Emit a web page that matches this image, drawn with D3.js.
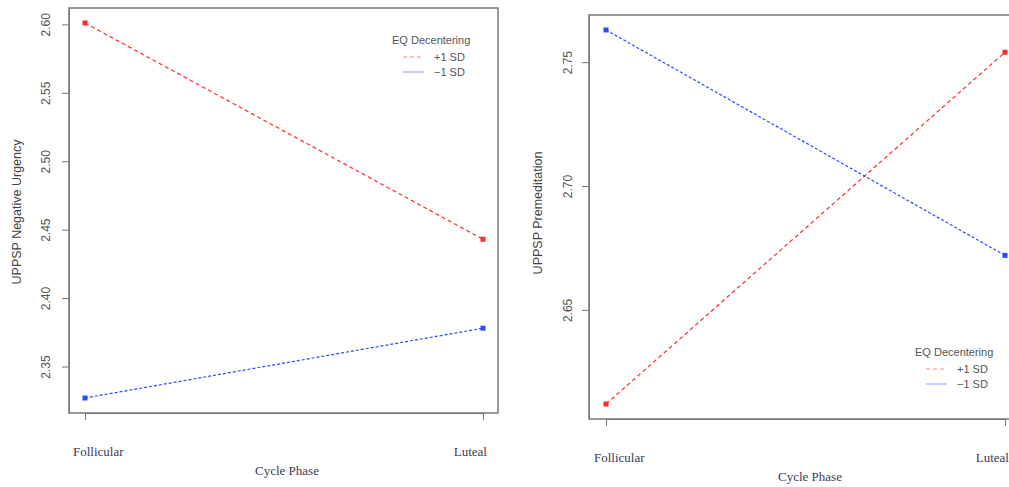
<!DOCTYPE html>
<html>
<head>
<meta charset="utf-8">
<script src="https://cdn.jsdelivr.net/npm/d3@7"></script>
<style>
  body { margin: 0; background: #fff; }
  svg text { fill: #333; }
</style>
</head>
<body>
<svg id="chart" width="1009" height="487"></svg>
<script>
// data
const phases = ["Follicular", "Luteal"];
const seriesNames = ["+1 SD", "\u22121 SD"];
const urgencyPlus = [2.601, 2.443];
const urgencyMinus = [2.327, 2.378];
const premedPlus = [2.612, 2.754];
const premedMinus = [2.763, 2.672];
const urgencyTicks = [2.35, 2.40, 2.45, 2.50, 2.55, 2.60];
const premedTicks = [2.65, 2.70, 2.75];

const colors = ["#ff2a2a", "#2a4bff"];
const dashes = ["4,3", "3,2"];

const svg = d3.select("#chart");

function drawPanel(p) {
  const g = svg.append("g");

  // R style 4% padding
  const all = p.series.flat();
  const lo = d3.min(all), hi = d3.max(all);
  const pad = (hi - lo) * 0.04;

  const x = d3.scalePoint()
    .domain(phases)
    .range([p.x0, p.x1]);

  const y = d3.scaleLinear()
    .domain([lo - pad, hi + pad])
    .range([p.bottom, p.top]);

  // plot box
  g.append("rect")
    .attr("x", p.left).attr("y", p.top)
    .attr("width", p.right - p.left).attr("height", p.bottom - p.top)
    .attr("fill", "none").attr("stroke", "#777").attr("stroke-width", 1.5);

  // y axis
  const ya = g.append("g")
    .attr("transform", "translate(" + p.left + ",0)")
    .call(d3.axisLeft(y).tickValues(p.ticks).tickFormat(d3.format(".2f")).tickSize(7).tickSizeOuter(0));
  ya.select(".domain").attr("stroke", "#777");
  ya.selectAll(".tick line").attr("stroke", "#777");
  ya.selectAll("text")
    .attr("x", 0).attr("dy", 0)
    .attr("text-anchor", "middle")
    .attr("transform", "translate(" + p.tickOff + ",0) rotate(-90)")
    .style("font-family", "Liberation Sans, Arial, sans-serif")
    .style("font-size", "12px")
    .style("fill", "#555");

  // x axis
  const xa = g.append("g")
    .attr("transform", "translate(0," + p.bottom + ")")
    .call(d3.axisBottom(x).tickSize(7).tickSizeOuter(0).tickFormat(""));
  xa.select(".domain").attr("stroke", "#777");
  xa.selectAll(".tick line").attr("stroke", "#777");

  // category labels (serif, as in the original)
  g.append("text")
    .attr("x", x(phases[0]) - 12).attr("y", p.bottom + 43)
    .style("font-family", "Liberation Serif, Times New Roman, serif")
    .style("font-size", "13px").style("fill", "#3a3a5a")
    .text(phases[0]);
  g.append("text")
    .attr("x", x(phases[1]) + 4).attr("y", p.bottom + 43)
    .attr("text-anchor", "end")
    .style("font-family", "Liberation Serif, Times New Roman, serif")
    .style("font-size", "13px").style("fill", "#3a3a5a")
    .text(phases[1]);

  g.append("text")
    .attr("x", p.xTitle).attr("y", p.bottom + 62)
    .attr("text-anchor", "middle")
    .style("font-family", "Liberation Serif, Times New Roman, serif")
    .style("font-size", "13px").style("fill", "#3a3a5a")
    .text("Cycle Phase");

  g.append("text")
    .attr("transform", "translate(" + p.yTitleX + "," + p.yTitleY + ") rotate(-90)")
    .attr("text-anchor", "middle")
    .style("font-family", "Liberation Sans, Arial, sans-serif")
    .style("font-size", "12.5px").style("fill", "#444")
    .text(p.yTitle);

  // lines and points
  const line = d3.line()
    .x((d, i) => x(phases[i]))
    .y(d => y(d));

  p.series.forEach((vals, k) => {
    g.append("path")
      .datum(vals)
      .attr("d", line)
      .attr("fill", "none")
      .attr("stroke", colors[k])
      .attr("stroke-width", 1.2)
      .attr("stroke-dasharray", dashes[k]);
    g.selectAll(null)
      .data(vals)
      .enter().append("rect")
      .attr("x", (d, i) => x(phases[i]) - 2.5)
      .attr("y", d => y(d) - 2.5)
      .attr("width", 5).attr("height", 5)
      .attr("fill", colors[k]);
  });

  // legend
  const lg = g.append("g").attr("transform", "translate(" + p.legX + "," + p.legY + ")");
  lg.append("text")
    .attr("x", 0).attr("y", 0)
    .style("font-family", "Liberation Sans, Arial, sans-serif")
    .style("font-size", "11px").style("fill", "#555")
    .text("EQ Decentering");
  seriesNames.forEach((name, k) => {
    const yy = 17 + k * 15;
    lg.append("line")
      .attr("x1", 11).attr("x2", 32)
      .attr("y1", yy - 4).attr("y2", yy - 4)
      .attr("stroke", colors[k]).attr("stroke-opacity", 0.55)
      .attr("stroke-dasharray", k === 0 ? "4,3" : null);
    lg.append("text")
      .attr("x", 42).attr("y", yy)
      .style("font-family", "Liberation Sans, Arial, sans-serif")
      .style("font-size", "11px").style("fill", "#555")
      .text(name);
  });
}

drawPanel({
  series: [urgencyPlus, urgencyMinus],
  ticks: urgencyTicks,
  left: 69, right: 498, top: 8, bottom: 413,
  x0: 85, x1: 483,
  xTitle: 287, tickOff: -19,
  yTitle: "UPPSP Negative Urgency", yTitleX: 21, yTitleY: 212,
  legX: 392, legY: 44
});

drawPanel({
  series: [premedPlus, premedMinus],
  ticks: premedTicks,
  left: 589, right: 1020, top: 15, bottom: 419,
  x0: 606, x1: 1005,
  xTitle: 810, tickOff: -17,
  yTitle: "UPPSP Premeditation", yTitleX: 542, yTitleY: 213,
  legX: 915, legY: 356
});
</script>
</body>
</html>
